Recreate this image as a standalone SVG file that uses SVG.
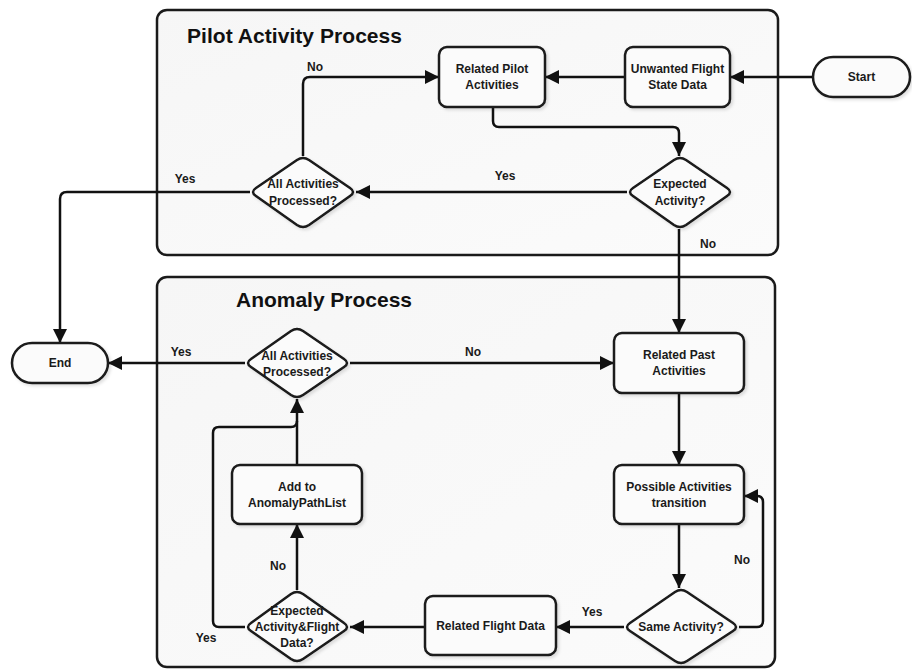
<svg xmlns="http://www.w3.org/2000/svg" width="912" height="671" viewBox="0 0 912 671">
<defs>
<marker id="arr" markerUnits="userSpaceOnUse" markerWidth="15" markerHeight="14" refX="14" refY="7" orient="auto"><path d="M0,0 L14,7 L0,14 z" fill="#111"/></marker>
<filter id="sh" x="-10%" y="-10%" width="130%" height="130%"><feDropShadow dx="2" dy="2" stdDeviation="1.5" flood-color="#000" flood-opacity="0.12"/></filter>
<linearGradient id="cg" x1="0" y1="0" x2="1" y2="1"><stop offset="0" stop-color="#f6f6f6"/><stop offset="1" stop-color="#fbfbfb"/></linearGradient>
</defs>
<style>
.cont{fill:url(#cg);stroke:#1a1a1a;stroke-width:2.5}
.node{fill:#fbfbfb;stroke:#1a1a1a;stroke-width:2.5;stroke-linejoin:round;filter:url(#sh)}
.t{font-family:"Liberation Sans",Arial,sans-serif;font-weight:bold;font-size:12px;fill:#1a1a1a;text-anchor:middle}
.lbl{font-family:"Liberation Sans",Arial,sans-serif;font-weight:bold;font-size:12px;fill:#1a1a1a;text-anchor:middle}
.title{font-family:"Liberation Sans",Arial,sans-serif;font-weight:bold;font-size:21px;fill:#111}
.c{fill:none;stroke:#111;stroke-width:2.5;marker-end:url(#arr)}
.cn{fill:none;stroke:#111;stroke-width:2.5}
</style>
<rect width="912" height="671" fill="#ffffff"/>
<g id="pilot-container">
<rect class="cont" x="157" y="10" width="621" height="245" rx="10"/>
<text class="title" x="187" y="43" textLength="215">Pilot Activity Process</text>
</g>
<g id="anomaly-container">
<rect class="cont" x="157" y="277" width="618" height="390" rx="10"/>
<text class="title" x="236" y="307" textLength="176">Anomaly Process</text>
</g>
<g id="connectors">
<path class="c" d="M813,77 H730"/>
<path class="c" d="M625,77 H545"/>
<path class="c" d="M493,107 V121 Q493,127 499,127 H673 Q679,127 679,133 V156"/>
<path class="c" d="M627,192 H356"/>
<path class="c" d="M303,156 V84 Q303,77 310,77 H439"/>
<path class="c" d="M250,192 H67 Q60,192 60,199 V343"/>
<path class="c" d="M679,229 V333"/>
<path class="c" d="M245,363 H108"/>
<path class="c" d="M350,363 H614"/>
<path class="c" d="M679,393 V465"/>
<path class="c" d="M679,524 V588"/>
<path class="c" d="M739,627 H757 Q763,627 763,621 V502 Q763,496 757,496 H744"/>
<path class="c" d="M624,627 H556"/>
<path class="c" d="M425,627 H350"/>
<path class="c" d="M297,590 V524"/>
<path class="c" d="M297,465 V399"/>
<path class="cn" d="M245,627 H219 Q213,627 213,621 V433 Q213,427 219,427 H291 Q297,427 297,421"/>
<text class="lbl" x="315" y="71">No</text>
<text class="lbl" x="505" y="180">Yes</text>
<text class="lbl" x="185" y="183">Yes</text>
<text class="lbl" x="708" y="248">No</text>
<text class="lbl" x="181" y="356">Yes</text>
<text class="lbl" x="473" y="356">No</text>
<text class="lbl" x="742" y="564">No</text>
<text class="lbl" x="592" y="616">Yes</text>
<text class="lbl" x="278" y="570">No</text>
<text class="lbl" x="206" y="642">Yes</text>
</g>
<g id="start">
<rect class="node" x="813" y="57" width="97" height="40" rx="20"/>
<text class="t" x="861.5" y="81">Start</text>
</g>
<g id="unwanted">
<rect class="node" x="625" y="47" width="105" height="60" rx="8"/>
<text class="t" x="677.5" y="73">Unwanted Flight</text>
<text class="t" x="677.5" y="89">State Data</text>
</g>
<g id="related-pilot">
<rect class="node" x="439" y="47" width="106" height="60" rx="8"/>
<text class="t" x="492" y="73">Related Pilot</text>
<text class="t" x="492" y="89">Activities</text>
</g>
<g id="expected-activity">
<path class="node" d="M686,160 L727,188 Q733,192 727,196 L686,225 Q680,229 674,225 L633,196 Q627,192 633,188 L674,160 Q680,156 686,160 Z"/>
<text class="t" x="680" y="188">Expected</text>
<text class="t" x="680" y="205">Activity?</text>
</g>
<g id="all-activities-1">
<path class="node" d="M309,160 L350,188 Q356,192 350,196 L309,225 Q303,229 297,225 L256,196 Q250,192 256,188 L297,160 Q303,156 309,160 Z"/>
<text class="t" x="303" y="188">All Activities</text>
<text class="t" x="303" y="205">Processed?</text>
</g>
<g id="end">
<rect class="node" x="12" y="343" width="96" height="40" rx="20"/>
<text class="t" x="60" y="367">End</text>
</g>
<g id="all-activities-2">
<path class="node" d="M303,331 L344,359 Q350,363 344,367 L303,395 Q297,399 291,395 L251,367 Q245,363 251,359 L291,331 Q297,327 303,331 Z"/>
<text class="t" x="297" y="360">All Activities</text>
<text class="t" x="297" y="376">Processed?</text>
</g>
<g id="related-past">
<rect class="node" x="614" y="333" width="130" height="60" rx="8"/>
<text class="t" x="679" y="359">Related Past</text>
<text class="t" x="679" y="375">Activities</text>
</g>
<g id="possible">
<rect class="node" x="614" y="465" width="130" height="59" rx="8"/>
<text class="t" x="679" y="491">Possible Activities</text>
<text class="t" x="679" y="507">transition</text>
</g>
<g id="same-activity">
<path class="node" d="M687,592 L733,623 Q739,627 733,631 L687,661 Q681,665 675,661 L630,631 Q624,627 630,623 L675,592 Q681,588 687,592 Z"/>
<text class="t" x="681" y="631">Same Activity?</text>
</g>
<g id="related-flight">
<rect class="node" x="425" y="596" width="131" height="59" rx="8"/>
<text class="t" x="490.5" y="630">Related Flight Data</text>
</g>
<g id="expected-flight">
<path class="node" d="M303,594 L344,623 Q350,627 344,631 L303,659 Q297,663 291,659 L251,631 Q245,627 251,623 L291,594 Q297,590 303,594 Z"/>
<text class="t" x="297" y="615">Expected</text>
<text class="t" x="297" y="631">Activity&amp;Flight</text>
<text class="t" x="297" y="647">Data?</text>
</g>
<g id="add-anomaly">
<rect class="node" x="232" y="465" width="130" height="59" rx="8"/>
<text class="t" x="297" y="491">Add to</text>
<text class="t" x="297" y="507">AnomalyPathList</text>
</g>
</svg>
